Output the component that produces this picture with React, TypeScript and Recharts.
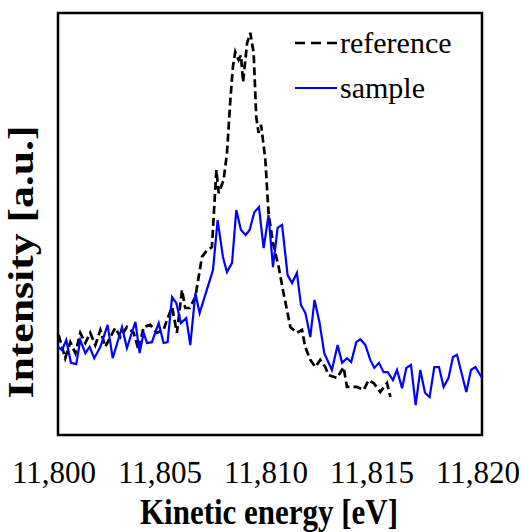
import { LineChart, Line, XAxis, YAxis, ReferenceArea } from "recharts";

// energies (eV) and intensities (a.u.)
const referenceEnergy = [
  11800.03, 11800.34, 11800.58, 11800.82, 11801.05, 11801.29, 11801.52, 11801.76, 11802.0, 11802.23,
  11802.47, 11802.7, 11802.94, 11803.25, 11803.57, 11803.8, 11804.04, 11804.35, 11804.67, 11804.98,
  11805.14, 11805.38, 11805.61, 11805.85, 11806.0, 11806.21, 11806.48, 11806.79, 11807.03, 11807.26,
  11807.47, 11807.58, 11807.81, 11807.97, 11808.13, 11808.25, 11808.36, 11808.52, 11808.63, 11808.73,
  11808.92, 11809.07, 11809.23, 11809.35, 11809.46, 11809.58, 11809.78, 11809.93, 11810.14, 11810.41,
  11810.64, 11810.96, 11811.27, 11811.51, 11811.66, 11811.9, 11812.14, 11812.37, 11812.61, 11812.76,
  11813.16, 11813.47, 11813.63, 11814.1, 11814.42, 11814.65, 11814.89, 11815.2, 11815.52, 11815.68,
];
const referenceIntensity = [
  23.7, 18.2, 22.0, 19.4, 24.2, 21.8, 24.2, 21.3, 24.9, 20.9,
  23.2, 25.4, 23.2, 25.6, 24.2, 20.1, 25.6, 26.1, 24.2, 24.9,
  27.3, 30.3, 24.2, 34.4, 30.1, 30.1, 32.7, 42.2, 43.8, 44.5,
  62.8, 57.3, 60.4, 66.8, 79.4, 87.2, 90.8, 88.9, 90.0, 83.6,
  92.9, 95.3, 90.5, 75.4, 71.6, 73.5, 65.2, 52.6, 45.5, 39.8,
  33.6, 25.6, 24.2, 24.9, 20.9, 17.8, 16.1, 17.8, 16.1, 14.2,
  13.5, 16.1, 11.4, 11.4, 10.7, 13.0, 12.3, 10.2, 12.3, 9.0,
];

const sampleEnergy = [
  11800.0, 11800.19, 11800.39, 11800.61, 11800.86, 11801.05, 11801.29, 11801.49, 11801.71, 11802.0,
  11802.34, 11802.58, 11803.02, 11803.25, 11803.65, 11803.85, 11804.04, 11804.2, 11804.43, 11804.75,
  11804.98, 11805.17, 11805.38, 11805.58, 11805.8, 11806.05, 11806.24, 11806.48, 11806.68, 11807.31,
  11807.53, 11807.78, 11807.97, 11808.21, 11808.41, 11808.63, 11808.85, 11809.04, 11809.26, 11809.48,
  11809.7, 11809.93, 11810.14, 11810.36, 11810.57, 11810.83, 11811.04, 11811.27, 11811.46, 11811.67,
  11811.9, 11812.1, 11812.33, 11812.56, 11812.92, 11813.19, 11813.4, 11813.63, 11813.83, 11814.07,
  11814.26, 11814.5, 11814.73, 11814.92, 11815.14, 11815.36, 11815.55, 11815.8, 11815.99, 11816.23,
  11816.43, 11816.65, 11816.87, 11817.09, 11817.31, 11817.53, 11817.75, 11817.97, 11818.19, 11818.42,
  11818.63, 11818.82, 11819.26, 11819.48, 11819.69, 11820.0,
];
const sampleIntensity = [
  20.9, 20.1, 22.5, 17.1, 16.8, 22.5, 19.4, 20.9, 18.2, 20.9,
  26.1, 18.2, 25.6, 20.6, 26.8, 19.4, 24.2, 21.8, 22.0, 26.5,
  21.8, 22.0, 32.7, 31.3, 26.5, 27.7, 21.3, 33.6, 28.9, 39.1,
  50.9, 42.2, 38.6, 40.8, 53.3, 48.6, 47.4, 48.6, 52.8, 54.0,
  44.3, 52.1, 39.8, 49.1, 49.8, 37.9, 36.0, 38.4, 30.8, 28.9,
  23.2, 32.0, 26.8, 19.4, 15.4, 21.3, 17.1, 18.2, 17.3, 22.0,
  22.7, 21.3, 17.8, 15.9, 17.1, 14.9, 14.9, 13.0, 15.4, 11.1,
  15.9, 16.6, 7.1, 15.4, 10.0, 9.0, 16.1, 16.1, 11.4, 13.5,
  18.5, 19.0, 10.2, 15.4, 16.1, 13.5,
];

const energyTicks = [11800, 11805, 11810, 11815, 11820];
const seriesNames = ["reference", "sample"];

const referenceData = referenceEnergy.map((e, i) => ({ energy: e, intensity: referenceIntensity[i] }));
const sampleData = sampleEnergy.map((e, i) => ({ energy: e, intensity: sampleIntensity[i] }));

const serif = '"Liberation Serif", "Times New Roman", serif';

function EnergyTick(props: any) {
  const { x, payload } = props;
  return (
    <text x={x - 4} y={483} textAnchor="middle" fontSize={31} fontFamily={serif} fill="#000">
      {Number(payload.value).toLocaleString("en-US")}
    </text>
  );
}

// both axis titles; the picture's text is squeezed, so textLength keeps the measured extents
function AxisTitles() {
  return (
    <g>
      <text
        x={269}
        y={524}
        textAnchor="middle"
        fontSize={36}
        fontWeight="bold"
        fontFamily={serif}
        textLength={258}
        lengthAdjust="spacingAndGlyphs"
        fill="#000"
      >
        Kinetic energy [eV]
      </text>
      <text
        transform="translate(33,262) rotate(-90)"
        x={0}
        y={0}
        textAnchor="middle"
        fontSize={35}
        fontWeight="bold"
        fontFamily={serif}
        textLength={273}
        lengthAdjust="spacingAndGlyphs"
        fill="#000"
      >
        Intensity [a.u.]
      </text>
    </g>
  );
}

function ChartLegend() {
  const rows = [
    { name: seriesNames[0], color: "#000", dash: "10 6" },
    { name: seriesNames[1], color: "#0000ff", dash: undefined },
  ];
  return (
    <div style={{ position: "absolute", top: 20, left: 293, fontFamily: serif, fontSize: 30, color: "#000" }}>
      {rows.map((r) => (
        <div key={r.name} style={{ display: "flex", alignItems: "center", height: 45, lineHeight: "45px" }}>
          <svg width={46} height={10} style={{ marginRight: 1 }}>
            <line x1={2} y1={5} x2={44} y2={5} stroke={r.color} strokeWidth={r.dash ? 2.5 : 2.2} strokeDasharray={r.dash} />
          </svg>
          <span>{r.name}</span>
        </div>
      ))}
    </div>
  );
}

export default function App() {
  return (
    <div style={{ position: "absolute", top: 0, left: 0, width: 523, height: 532, background: "#fff" }}>
      <LineChart width={523} height={532} margin={{ top: 13, right: 41, left: 58, bottom: 0 }}>
        <XAxis
          type="number"
          dataKey="energy"
          domain={[11800, 11820]}
          ticks={energyTicks}
          allowDataOverflow
          height={97}
          axisLine={false}
          tickLine={false}
          tick={(p: any) => <EnergyTick {...p} />}
          label={{ content: () => <AxisTitles /> }}
        />
        <YAxis
          type="number"
          dataKey="intensity"
          domain={[0, 100]}
          width={0}
          tick={false}
          axisLine={false}
          tickLine={false}
        />
        <Line
          data={referenceData}
          dataKey="intensity"
          name={seriesNames[0]}
          stroke="#000"
          strokeWidth={2.7}
          strokeDasharray="8 4"
          dot={false}
          activeDot={false}
          isAnimationActive={false}
        />
        <Line
          data={sampleData}
          dataKey="intensity"
          name={seriesNames[1]}
          stroke="#0000ff"
          strokeWidth={2.2}
          dot={false}
          activeDot={false}
          isAnimationActive={false}
        />
        <ReferenceArea
          x1={11800}
          x2={11820}
          y1={0}
          y2={100}
          fill="none"
          stroke="#000"
          strokeWidth={2.5}
          ifOverflow="visible"
        />
      </LineChart>
      <ChartLegend />
    </div>
  );
}
